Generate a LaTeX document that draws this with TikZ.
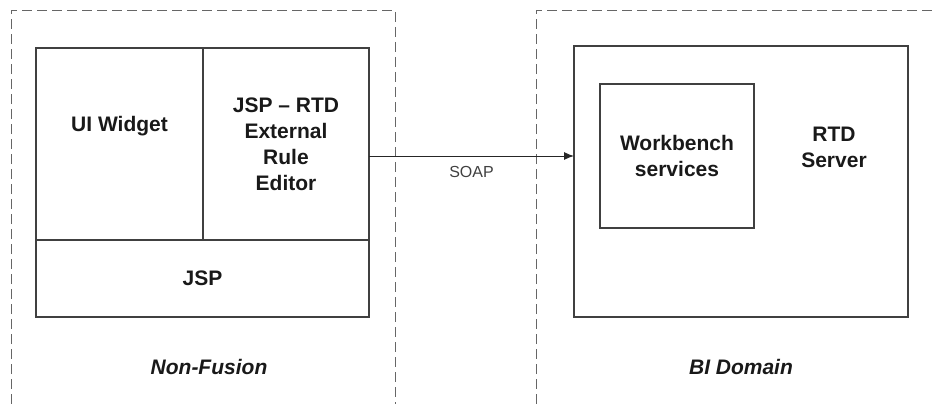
\documentclass[tikz,border=0pt]{standalone}
\usepackage{fontspec}
\setmainfont{Liberation Sans}
\usetikzlibrary{arrows.meta}
\begin{document}
\begin{tikzpicture}
% pixel grid of the reference, y pointing down
\tikzset{
  boxline/.style={draw=black!75, line width=1.2pt},
  part/.style={boxline, inner sep=0pt, outer sep=0pt, align=center,
    font=\fontsize{21}{26}\selectfont\bfseries, text=black!90},
  zone/.style={draw=black!60, line width=0.9pt, dash pattern=on 10pt off 5pt},
  zonelabel/.style={font=\fontsize{21}{26}\selectfont\bfseries\itshape, text=black!90},
  wire/.style={draw=black!85, line width=1pt, -{Latex[length=10pt,width=8pt]}}
}
\begin{scope}[x=1pt, y=-1pt]
  \useasboundingbox (0,0) rectangle (934,404);
  % Dashed domain outlines
  \draw[zone] (11,404) -- (11,10) -- (395,10) -- (395,404);
  \draw[zone] (536,404) -- (536,10) -- (934,10);
  % Non-Fusion side
  \node[part, minimum width=167pt, minimum height=192pt] (uiw) at (119.5,144) {UI Widget\\[14pt]};
  \node[part, minimum width=166pt, minimum height=192pt] (editor) at (286,144) {JSP -- RTD\\External\\Rule\\Editor};
  \node[part, minimum width=333pt, minimum height=77pt] (jsp) at (202.5,278.5) {JSP};
  \node[zonelabel] (nonfusion) at (209,367) {Non-Fusion};
  % BI side
  \node[part, minimum width=334pt, minimum height=271pt] (rtd) at (741,181.5) {};
  \node[part, minimum width=154pt, minimum height=144pt] (wb) at (677,156) {Workbench\\services};
  \node[align=center, font=\fontsize{21}{26}\selectfont\bfseries, text=black!90] (rtdname) at (834,147) {RTD\\Server};
  \node[zonelabel] (bidomain) at (741,367) {BI Domain};
  % Connector
  \coordinate (soapy) at (0,156);
  \draw[wire] (editor.east |- soapy) -- (rtd.west |- soapy)
    node[midway, below=6pt, font=\fontsize{16}{18}\selectfont, text=black!75] (soap) {SOAP};
\end{scope}
\end{tikzpicture}
\end{document}
